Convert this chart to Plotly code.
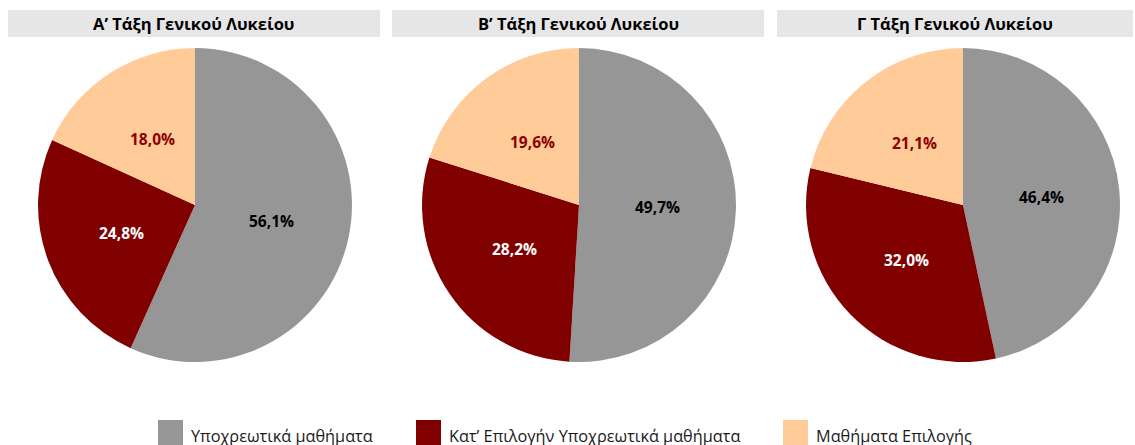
import math
import plotly.graph_objects as go

# Shares of teaching hours by course type, per grade of General Lyceum
categories = ["Υποχρεωτικά μαθήματα", "Κατ’ Επιλογήν Υποχρεωτικά μαθήματα", "Μαθήματα Επιλογής"]
grades = ["Α’ Τάξη Γενικού Λυκείου", "Β’ Τάξη Γενικού Λυκείου", "Γ Τάξη Γενικού Λυκείου"]
grade_a = [56.1, 24.8, 18.0]
grade_b = [49.7, 28.2, 19.6]
grade_c = [46.4, 32.0, 21.1]

colors = ["#969696", "#800000", "#FFCC99"]
label_colors = ["#000000", "#FFFFFF", "#8B0000"]

W, H = 1135, 445
FONT = "Open Sans"

pie_domains_x = [[0.0335, 0.3101], [0.3718, 0.6485], [0.7101, 0.9868]]
pie_domain_y = [0.1865, 0.892]
title_bars_px = [(8, 380), (392, 764), (777, 1133)]

fig = go.Figure()
annotations = []
for vals, dx in zip([grade_a, grade_b, grade_c], pie_domains_x):
    fig.add_trace(go.Pie(
        labels=categories,
        values=vals,
        sort=False,
        direction="clockwise",
        rotation=0,
        marker=dict(colors=colors, line=dict(width=0)),
        textinfo="none",
        domain=dict(x=dx, y=pie_domain_y),
        showlegend=False,
        hoverinfo="label+value",
    ))

    # Value labels: half-way out along each slice's bisector
    cx_px = (dx[0] + dx[1]) / 2 * W
    cy_px = (1 - (pie_domain_y[0] + pie_domain_y[1]) / 2) * H
    radius = min((dx[1] - dx[0]) * W, (pie_domain_y[1] - pie_domain_y[0]) * H) / 2
    total = sum(vals)
    cum = 0.0
    for v, tc in zip(vals, label_colors):
        mid = (cum + v / 2) / total * 2 * math.pi
        cum += v
        lx = cx_px + 0.5 * radius * math.sin(mid)
        ly = cy_px - 0.5 * radius * math.cos(mid)
        annotations.append(dict(
            text="<b>" + f"{v:.1f}".replace(".", ",") + "%</b>",
            xref="paper", yref="paper", x=lx / W, y=1 - ly / H,
            xanchor="center", yanchor="middle", showarrow=False,
            font=dict(family=FONT, size=15.5, color=tc)))

shapes = []
# Grey title bars above each pie
for (x0, x1), title in zip(title_bars_px, grades):
    shapes.append(dict(type="rect", xref="paper", yref="paper",
                       x0=x0 / W, x1=x1 / W, y0=1 - 37 / H, y1=1 - 10 / H,
                       fillcolor="#E6E6E6", line=dict(width=0), layer="below"))
    annotations.append(dict(text=f"<b>{title}</b>", xref="paper", yref="paper",
                            x=(x0 + x1) / 2 / W, y=1 - 23.5 / H,
                            xanchor="center", yanchor="middle", showarrow=False,
                            font=dict(family=FONT, size=16.5, color="#000000")))

# Legend along the bottom edge
legend_px = [158, 416, 783]
for x0, name, col in zip(legend_px, categories, colors):
    shapes.append(dict(type="rect", xref="paper", yref="paper",
                       x0=x0 / W, x1=(x0 + 25) / W, y0=1 - 446 / H, y1=1 - 420 / H,
                       fillcolor=col, line=dict(width=0)))
    annotations.append(dict(text=name, xref="paper", yref="paper",
                            x=(x0 + 31) / W, y=1 - 436 / H,
                            xanchor="left", yanchor="middle", showarrow=False,
                            font=dict(family=FONT, size=16.3, color="#1a1a1a")))

fig.update_layout(
    width=W, height=H,
    margin=dict(l=0, r=0, t=0, b=0),
    paper_bgcolor="white",
    plot_bgcolor="white",
    shapes=shapes,
    annotations=annotations,
)

fig.write_html("out.html")
